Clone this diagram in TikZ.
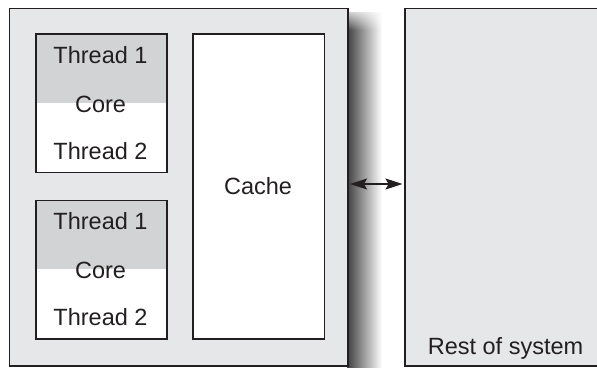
\documentclass[tikz,border=0pt]{standalone}
\usepackage{fontspec}
\setmainfont{Liberation Sans}
\usetikzlibrary{arrows.meta,fadings}
\definecolor{edge}{HTML}{231F20}
\definecolor{panel}{HTML}{E6E7E8}
\definecolor{threadgray}{HTML}{D1D3D4}
\tikzfading[name=fadetop, top color=transparent!0, bottom color=transparent!100]
\begin{document}
\begin{tikzpicture}[x=1pt,y=-1pt,
  box/.style={draw=edge, line width=1.5pt, inner sep=0pt, anchor=north west},
  corebox/.style={box, fill=white, minimum width=131pt, minimum height=138.5pt,
    path picture={\fill[threadgray] (path picture bounding box.north west)
      rectangle ([yshift=-69pt]path picture bounding box.north east);}},
  label/.style={font=\fontsize{23.5}{28}\selectfont, text=edge, anchor=base, inner sep=0pt},
  link/.style={draw=edge, line width=1.2pt,
    {Stealth[length=17pt,width=11pt,inset=3pt]}-{Stealth[length=17pt,width=11pt,inset=3pt]}}]
\useasboundingbox (0,0) rectangle (597,367);
\fill[white] (0,0) rectangle (597,367);

% soft drop shadow to the right of the processor package
\shade[left color=black!75, right color=white] (347,12) rectangle (382,367);
\fill[white, path fading=fadetop] (347,6) rectangle (386,30);

% processor package and the rest of the system
\node[box, fill=panel, minimum width=338.5pt, minimum height=357.5pt] (chip) at (8.5,7.5) {};
\node[box, fill=panel, minimum width=210pt, minimum height=357.5pt] (rest) at (404,7.5) {};

% two cores, each running two threads
\node[corebox] (core1) at (35,33) {};
\node[corebox] (core2) at (35,199.5) {};
\node[label] (t11) at (100.5,63) {Thread 1};
\node[label] (c1)  at (100.5,112) {Core};
\node[label] (t12) at (100.5,159) {Thread 2};
\node[label] (t21) at (100.5,229.5) {Thread 1};
\node[label] (c2)  at (100.5,278.5) {Core};
\node[label] (t22) at (100.5,325.5) {Thread 2};

% shared cache
\node[box, fill=white, minimum width=131.5pt, minimum height=305pt] (cache) at (192,33) {};
\node[label] (cachetxt) at (258,194) {Cache};

\node[label] (resttxt) at (505.5,354) {Rest of system};

% link between the package and the rest of the system
\draw[link] ([shift={(1.5,-3)}]chip.east) -- ([shift={(-1.5,-3)}]rest.west);
\end{tikzpicture}
\end{document}
